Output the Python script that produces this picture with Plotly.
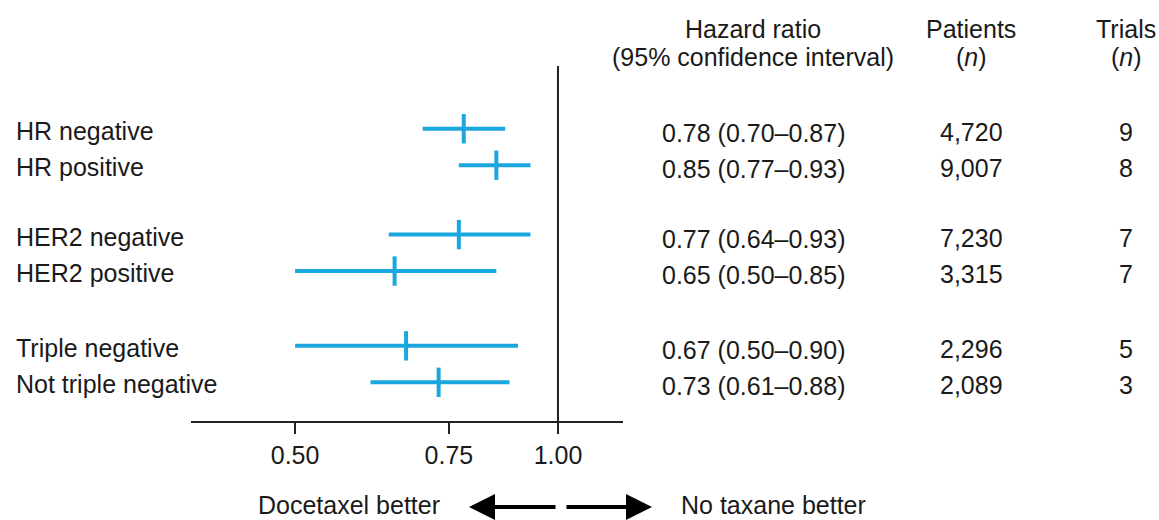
import math
import plotly.graph_objects as go

# ---------------- data ----------------
subgroups = ["HR negative", "HR positive", "HER2 negative", "HER2 positive",
             "Triple negative", "Not triple negative"]
hazard_ratio = [0.78, 0.85, 0.77, 0.65, 0.67, 0.73]
ci_low = [0.70, 0.77, 0.64, 0.50, 0.50, 0.61]
ci_high = [0.87, 0.93, 0.93, 0.85, 0.90, 0.88]
patients = [4720, 9007, 7230, 3315, 2296, 2089]
trials = [9, 8, 7, 7, 5, 3]
tick_values = [0.50, 0.75, 1.00]
tick_labels = ["0.50", "0.75", "1.00"]

# ---------------- layout constants ----------------
W, H = 1159, 520
ROW_POS = [0, 1, 2.9, 3.9, 5.95, 6.95]
BLUE = "#1aa7df"
INK = "#1a1a1a"
FONT = "Arial, Liberation Sans, sans-serif"
FS = 25


def px_x(p):
    return p / W


def px_y(p):
    return (H - p) / H


fig = go.Figure()

fig.add_trace(go.Scatter(
    x=hazard_ratio,
    y=ROW_POS,
    mode="markers",
    marker=dict(symbol="line-ns", size=21, color=BLUE,
                line=dict(color=BLUE, width=4)),
    error_x=dict(type="data", symmetric=False,
                 array=[h - m for h, m in zip(ci_high, hazard_ratio)],
                 arrayminus=[m - l for m, l in zip(hazard_ratio, ci_low)],
                 width=0, thickness=4, color=BLUE),
    showlegend=False,
    hoverinfo="skip",
))

annotations = []
col_hr, col_pat, col_tri = px_x(753), px_x(971), px_x(1126)
for i, name in enumerate(subgroups):
    y = ROW_POS[i]
    annotations.append(dict(x=px_x(14), y=y, xref="paper", yref="y", text=name,
                            xanchor="left", yanchor="middle", showarrow=False, yshift=-2))
    annotations.append(dict(x=col_hr, y=y, xref="paper", yref="y",
                            text=f"{hazard_ratio[i]:.2f} ({ci_low[i]:.2f}\u2013{ci_high[i]:.2f})",
                            xanchor="center", yanchor="middle", showarrow=False, yshift=-4))
    annotations.append(dict(x=col_pat, y=y, xref="paper", yref="y",
                            text=f"{patients[i]:,}",
                            xanchor="center", yanchor="middle", showarrow=False, yshift=-3))
    annotations.append(dict(x=col_tri, y=y, xref="paper", yref="y",
                            text=f"{trials[i]}",
                            xanchor="center", yanchor="middle", showarrow=False, yshift=-3))

# headers
for x, t1, t2 in [(col_hr, "Hazard ratio", "(95% confidence interval)"),
                  (col_pat, "Patients", "(<i>n</i>)"),
                  (col_tri, "Trials", "(<i>n</i>)")]:
    annotations.append(dict(x=x, y=px_y(29), xref="paper", yref="paper", text=t1,
                            xanchor="center", yanchor="middle", showarrow=False))
    annotations.append(dict(x=x, y=px_y(57), xref="paper", yref="paper", text=t2,
                            xanchor="center", yanchor="middle", showarrow=False))

# bottom direction labels and arrows
annotations.append(dict(x=px_x(349), y=px_y(505), xref="paper", yref="paper",
                        text="Docetaxel better", xanchor="center", yanchor="middle",
                        showarrow=False))
annotations.append(dict(x=px_x(773), y=px_y(505), xref="paper", yref="paper",
                        text="No taxane better", xanchor="center", yanchor="middle",
                        showarrow=False))
annotations.append(dict(x=px_x(469), y=px_y(507), xref="paper", yref="paper", text="",
                        showarrow=True, ax=88, ay=0, arrowhead=2, arrowsize=1.3,
                        arrowwidth=4, arrowcolor="#000", standoff=0, startstandoff=0))
annotations.append(dict(x=px_x(652), y=px_y(507), xref="paper", yref="paper", text="",
                        showarrow=True, ax=-87, ay=0, arrowhead=2, arrowsize=1.3,
                        arrowwidth=4, arrowcolor="#000", standoff=0, startstandoff=0))

x_lo, x_hi = 0.380, 1.187

fig.update_layout(
    width=W, height=H,
    margin=dict(l=0, r=0, t=0, b=0),
    paper_bgcolor="white", plot_bgcolor="white",
    font=dict(family=FONT, size=FS, color=INK),
    xaxis=dict(type="log", range=[math.log10(x_lo), math.log10(x_hi)],
               domain=[px_x(191), px_x(623)],
               tickvals=tick_values, ticktext=tick_labels,
               ticks="outside", ticklen=11, tickwidth=2, tickcolor="#222",
               showline=True, linecolor="#222", linewidth=2,
               showgrid=False, zeroline=False,
               tickfont=dict(family=FONT, size=FS, color=INK),
               ticklabelstandoff=0),
    yaxis=dict(range=[8.01, -1.72], domain=[px_y(421), px_y(66)],
               visible=False, showgrid=False, zeroline=False),
    annotations=annotations,
    shapes=[dict(type="line", xref="x", yref="y domain", x0=1, x1=1, y0=0, y1=1,
                 line=dict(color="#222", width=2))],
)

fig.write_html("out.html",
               config={"displayModeBar": False, "staticPlot": True},
               post_script="document.body.style.margin='0';document.body.style.overflow='hidden';")
